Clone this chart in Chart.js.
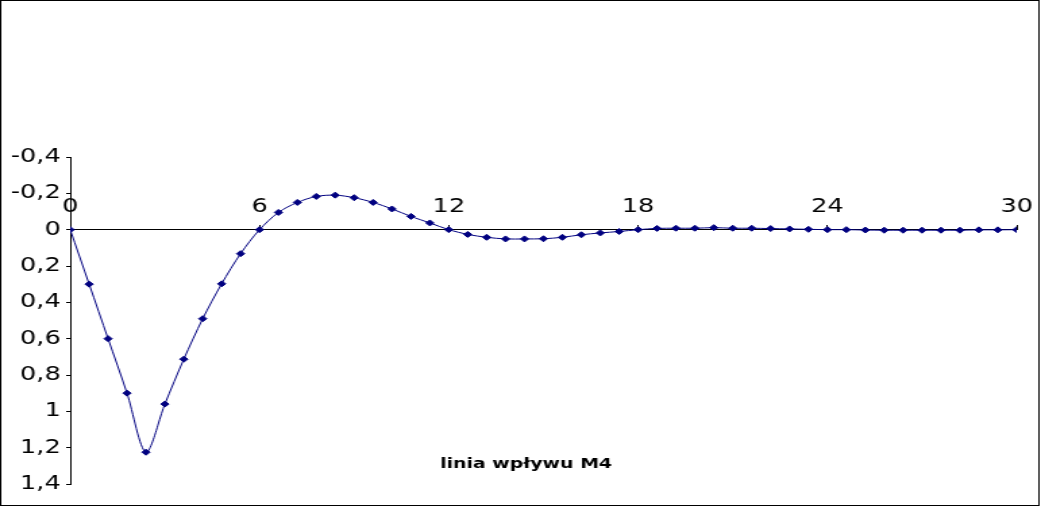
<!DOCTYPE html>
<html>
<head>
<meta charset="utf-8">
<script src="https://cdn.jsdelivr.net/npm/chart.js@4.4.1/dist/chart.umd.min.js"></script>
<style>
  html, body { margin: 0; padding: 0; background: #fff; }
</style>
</head>
<body>
<!-- the original picture is stretched sideways, so the canvas is drawn narrow and widened -->
<canvas id="c" width="771" height="507" style="display:block;width:1041px;height:507px"></canvas>
<script>
// Influence line data
const positions = [
    0, 0.6, 1.2, 1.8, 2.4, 3, 3.6, 4.2, 4.8, 5.4,
    6, 6.6, 7.2, 7.8, 8.4, 9, 9.6, 10.2, 10.8, 11.4,
    12, 12.6, 13.2, 13.8, 14.4, 15, 15.6, 16.2, 16.8, 17.4,
    18, 18.6, 19.2, 19.8, 20.4, 21, 21.6, 22.2, 22.8, 23.4,
    24, 24.6, 25.2, 25.8, 26.4, 27, 27.6, 28.2, 28.8, 29.4,
    30
];
const influenceM4 = [
    0, 0.30, 0.60, 0.90, 1.225, 0.96, 0.713, 0.49, 0.298, 0.132,
    0, -0.095, -0.15, -0.183, -0.19, -0.176, -0.15, -0.114, -0.073, -0.037,
    0, 0.026, 0.042, 0.051, 0.051, 0.05, 0.042, 0.028, 0.018, 0.01,
    0, -0.007, -0.008, -0.008, -0.011, -0.008, -0.008, -0.006, -0.004, -0.002,
    0, 0, 0.002, 0.003, 0.003, 0.003, 0.003, 0.003, 0.001, 0.001,
    0
];
const xTicks = [0, 6, 12, 18, 24, 30];
const yTicks = [-0.4, -0.2, 0, 0.2, 0.4, 0.6, 0.8, 1, 1.2, 1.4];
const chartTitle = 'linia wpływu M4';

const NAVY = '#000080';
const FONT = "'DejaVu Sans', Verdana, sans-serif";

// Frame around the picture and the caption inside the plot
const framePlugin = {
    id: 'frame',
    afterDraw(chart) {
        const ctx = chart.ctx;
        ctx.save();
        ctx.strokeStyle = '#000';
        ctx.lineWidth = 1;
        ctx.strokeRect(0.5, 0.5, 769, 505);
        ctx.fillStyle = '#000';
        ctx.font = 'bold 14px ' + FONT;
        ctx.textAlign = 'center';
        ctx.textBaseline = 'alphabetic';
        ctx.fillText(chartTitle, 389.6, 467.5);
        ctx.restore();
    }
};

function formatComma(v) {
    return String(Math.round(v * 10) / 10).replace('.', ',');
}

new Chart(document.getElementById('c'), {
    type: 'line',
    data: {
        datasets: [{
            label: chartTitle,
            data: positions.map((p, i) => ({ x: p, y: influenceM4[i] })),
            borderColor: NAVY,
            borderWidth: 1,
            backgroundColor: NAVY,
            pointStyle: 'rectRot',
            pointRadius: 3,
            pointBorderWidth: 1,
            pointBackgroundColor: NAVY,
            pointBorderColor: NAVY,
            tension: 0.3,
            fill: false
        }]
    },
    options: {
        responsive: false,
        devicePixelRatio: 1,
        animation: false,
        layout: {
            padding: { top: 157, bottom: 23, left: 0, right: 18 }
        },
        plugins: {
            legend: { display: false },
            title: { display: false },
            tooltip: { enabled: false }
        },
        scales: {
            x: {
                type: 'linear',
                position: { y: 0 },
                min: 0,
                max: 30,
                afterBuildTicks: s => { s.ticks = xTicks.map(v => ({ value: v })); },
                ticks: {
                    color: '#000',
                    font: { family: FONT, size: 19 },
                    padding: -29,
                    maxRotation: 0
                },
                grid: {
                    drawOnChartArea: false,
                    tickLength: -5,
                    color: '#000'
                },
                border: { color: '#000', width: 1 }
            },
            y: {
                type: 'linear',
                reverse: true,
                min: -0.4,
                max: 1.4,
                afterBuildTicks: s => { s.ticks = yTicks.map(v => ({ value: v })); },
                afterFit: s => { s.width = 52; },
                ticks: {
                    color: '#000',
                    font: { family: FONT, size: 19 },
                    padding: 4,
                    callback: v => formatComma(v)
                },
                grid: {
                    drawOnChartArea: false,
                    tickLength: 3,
                    color: '#000'
                },
                border: { color: '#000', width: 1 }
            }
        }
    },
    plugins: [framePlugin]
});
</script>
</body>
</html>
